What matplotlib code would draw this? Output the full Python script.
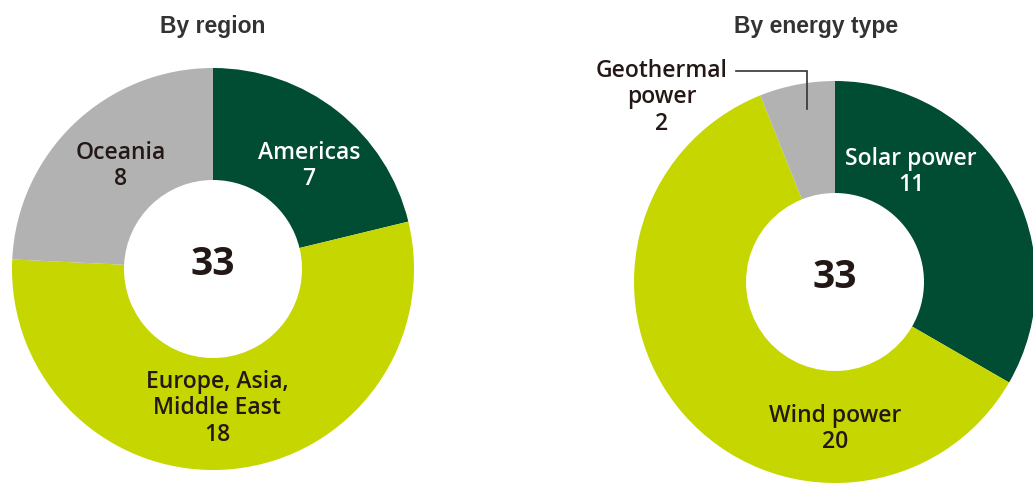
import matplotlib
matplotlib.use("Agg")
import matplotlib.pyplot as plt

# Data
region_labels = ["Americas", "Europe, Asia,\nMiddle East", "Oceania"]
region_values = [7, 18, 8]
energy_labels = ["Solar power", "Wind power", "Geothermal\npower"]
energy_values = [11, 20, 2]

DARK = "#004D33"
LIME = "#C5D600"
GREY = "#B1B2B1"
INK = "#231815"
region_colors = [DARK, LIME, GREY]
energy_colors = [DARK, LIME, GREY]

W, H = 1033, 489
fig = plt.figure(figsize=(W / 100, H / 100), dpi=100)
ax = fig.add_axes([0, 0, 1, 1])

LABEL_FONT = ["Open Sans", "DejaVu Sans"]
TITLE_FONT = ["Liberation Sans", "DejaVu Sans"]


def px(x, y):
    return x, H - y


R_OUT, R_IN = 201, 89

# Left donut: by region
c1 = px(213, 270)
ax.pie(region_values, colors=region_colors, center=c1, radius=R_OUT,
       startangle=90, counterclock=False,
       wedgeprops=dict(width=R_OUT - R_IN, linewidth=0))
# Right donut: by energy type
c2 = px(835, 283)
ax.pie(energy_values, colors=energy_colors, center=c2, radius=R_OUT,
       startangle=90, counterclock=False,
       wedgeprops=dict(width=R_OUT - R_IN, linewidth=0))

ax.set_xlim(0, W)
ax.set_ylim(0, H)
ax.set_aspect("equal")
ax.axis("off")

# Titles
ax.text(*px(213, 27), "By region", ha="center", va="center",
        fontsize=16.5, fontweight="bold", color="#333333", family=TITLE_FONT)
ax.text(*px(816, 27), "By energy type", ha="center", va="center",
        fontsize=16.5, fontweight="bold", color="#333333", family=TITLE_FONT)

# Totals
ax.text(c1[0], c1[1] + 5, str(sum(region_values)), ha="center", va="center",
        fontsize=28, fontweight="bold", color=INK, family=LABEL_FONT)
ax.text(c2[0], c2[1] + 5, str(sum(energy_values)), ha="center", va="center",
        fontsize=28, fontweight="bold", color=INK, family=LABEL_FONT)

# Segment labels (pixel anchors of the first line)
region_pos = [(309, 153), (217, 382), (121, 153)]
energy_pos = [(911, 159), (835, 416), (662, 71)]
LINE = 26.5


def label(txt, val, pos, color):
    lines = txt.split("\n") + [str(val)]
    for i, ln in enumerate(lines):
        ax.text(*px(pos[0], pos[1] + i * LINE), ln, ha="center", va="center",
                fontsize=16.5, fontweight="semibold", color=color,
                family=LABEL_FONT)


for t, v, p, c in zip(region_labels, region_values, region_pos, region_colors):
    label(t, v, p, "white" if c == DARK else INK)
for t, v, p, c in zip(energy_labels, energy_values, energy_pos, energy_colors):
    label(t, v, p, "white" if c == DARK else INK)

# Leader line for the small geothermal slice
lx = [px(736, 72)[0], px(807, 72)[0], px(807, 110)[0]]
ly = [px(736, 72)[1], px(807, 72)[1], px(807, 110)[1]]
ax.plot(lx, ly, color="#333333", linewidth=1.2, solid_joinstyle="miter")

fig.savefig("out.png", dpi=100, facecolor="white")
